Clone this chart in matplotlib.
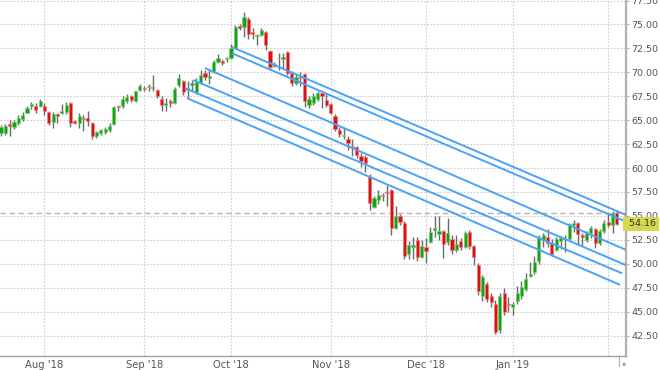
import matplotlib
matplotlib.use('Agg')
import matplotlib.pyplot as plt
from matplotlib.patches import Rectangle
import matplotlib.transforms as mtrans

# ---------------- data ----------------
opens = [63.7, 63.7, 64.6, 64.3, 64.7, 65.1, 65.8, 66.5, 66.5, 66.5,
         66.5, 65.9, 64.8, 65.6, 65.8, 65.9, 66.8, 64.9, 64.7, 65.2,
         65.2, 64.7, 63.3, 63.7, 63.8, 64.0, 64.6, 66.5, 66.5, 67.0,
         67.5, 67.0, 68.2, 68.4, 68.5, 68.5, 68.2, 67.2, 66.6, 67.0,
         66.8, 68.7, 69.1, 68.2, 68.7, 67.9, 69.0, 69.9, 69.4, 70.0,
         71.1, 71.2, 71.4, 71.5, 72.5, 74.85, 74.7, 75.6, 74.2, 73.8,
         73.9, 74.2, 72.2, 70.8, 71.5, 71.4, 72.1, 69.9, 68.9, 69.5,
         69.8, 66.6, 66.8, 67.2, 67.8, 67.1, 66.7, 65.4, 64.0, 63.4,
         63.0, 62.3, 62.2, 61.3, 61.2, 59.1, 55.9, 56.7, 57.2, 57.45,
         57.7, 53.7, 55.0, 54.3, 51.0, 51.8, 52.5, 50.7, 51.7, 52.3,
         53.5, 53.1, 53.4, 52.3, 52.6, 51.4, 52.4, 51.8, 53.3, 51.9,
         49.9, 46.6, 47.9, 46.6, 45.8, 43.1, 46.9, 45.8, 45.5, 46.1,
         46.6, 47.4, 48.7, 49.1, 50.3, 52.5, 52.8, 52.2, 51.4, 52.4,
         52.7, 52.6, 54.0, 54.3, 53.0, 52.5, 53.2, 53.6, 52.2, 53.4,
         54.4, 54.1, 55.3]
closes = [64.3, 64.4, 64.4, 64.8, 65.2, 65.5, 66.3, 66.7, 66.1, 67.0,
          66.0, 64.7, 65.6, 65.4, 66.0, 66.6, 64.7, 64.7, 65.4, 65.1,
          64.9, 63.4, 63.8, 64.0, 64.1, 64.4, 66.4, 66.4, 67.2, 67.4,
          67.1, 68.0, 68.6, 68.3, 68.6, 68.4, 67.5, 66.6, 66.8, 66.8,
          68.3, 69.4, 67.9, 68.4, 68.9, 69.0, 69.7, 69.5, 69.6, 71.1,
          71.5, 71.0, 71.45, 72.5, 74.7, 74.6, 75.8, 74.0, 74.0, 73.9,
          74.4, 72.9, 70.6, 70.9, 71.45, 71.6, 69.9, 68.9, 69.5, 69.45,
          67.0, 67.2, 67.5, 67.8, 67.5, 66.6, 65.8, 64.1, 63.6, 63.5,
          62.6, 62.2, 61.4, 60.7, 60.5, 56.3, 56.9, 57.2, 57.1, 57.4,
          53.7, 55.0, 54.4, 50.8, 52.0, 52.0, 50.7, 51.9, 51.3, 53.3,
          53.7, 53.4, 52.1, 53.2, 51.4, 52.1, 51.7, 53.2, 51.9, 50.7,
          47.1, 48.6, 46.3, 46.0, 42.9, 46.6, 45.0, 45.7, 45.8, 46.9,
          47.6, 48.4, 48.9, 50.2, 52.8, 53.0, 52.2, 51.0, 52.6, 52.7,
          52.6, 54.2, 54.3, 53.1, 52.8, 53.2, 53.7, 52.2, 53.4, 54.3,
          54.0, 55.3, 54.16]
highs = [64.5, 64.6, 65.0, 65.0, 65.5, 65.9, 66.5, 66.9, 66.8, 67.2,
         66.8, 66.0, 65.9, 65.8, 66.7, 66.9, 66.9, 65.0, 65.7, 65.5,
         66.0, 64.8, 63.9, 64.1, 64.3, 64.7, 66.5, 66.6, 67.5, 67.7,
         67.6, 68.1, 68.8, 68.6, 68.8, 69.7, 68.3, 67.5, 67.3, 67.2,
         68.5, 69.8, 69.2, 69.1, 69.2, 69.4, 70.2, 70.2, 70.4, 71.3,
         71.9, 71.4, 71.6, 73.0, 74.9, 75.0, 76.3, 75.8, 74.6, 74.0,
         74.6, 74.3, 72.3, 71.1, 72.0, 72.0, 72.2, 70.1, 69.9, 70.0,
         69.9, 67.5, 67.8, 68.0, 68.1, 67.8, 66.8, 65.6, 64.3, 64.2,
         63.3, 63.0, 62.3, 61.6, 61.4, 59.4, 57.1, 57.7, 57.4, 58.2,
         57.8, 56.0, 55.2, 54.5, 52.4, 52.8, 52.8, 52.5, 52.7, 53.8,
         55.0, 55.0, 53.5, 54.8, 53.0, 53.0, 52.7, 53.4, 53.5, 52.0,
         50.1, 48.8, 48.1, 46.9, 46.2, 46.9, 47.5, 46.5, 46.0, 47.7,
         48.2, 49.0, 50.2, 50.8, 53.0, 53.2, 53.6, 52.6, 52.8, 52.9,
         53.0, 54.3, 54.6, 54.4, 53.2, 53.4, 53.9, 53.7, 53.6, 54.6,
         55.3, 55.5, 55.6]
lows = [63.3, 63.5, 63.4, 64.1, 64.5, 64.9, 65.7, 66.2, 65.8, 66.4,
        65.5, 64.5, 64.2, 64.7, 65.6, 65.6, 64.3, 64.6, 64.2, 63.9,
        64.4, 63.0, 63.1, 63.5, 63.6, 63.8, 64.5, 66.0, 66.3, 66.8,
        66.9, 66.9, 68.0, 68.0, 68.1, 68.1, 67.3, 66.0, 66.0, 66.4,
        66.7, 68.5, 67.6, 67.3, 68.0, 67.7, 68.8, 69.2, 68.8, 69.9,
        71.0, 70.8, 71.1, 71.4, 72.4, 74.4, 73.7, 73.5, 73.5, 72.9,
        73.8, 72.3, 70.4, 70.6, 70.2, 70.4, 69.7, 68.6, 68.7, 68.6,
        66.4, 66.3, 66.6, 67.0, 66.3, 66.4, 65.6, 63.9, 63.2, 63.0,
        61.9, 61.3, 61.0, 60.1, 59.6, 55.6, 55.8, 56.2, 56.6, 56.0,
        53.0, 53.6, 54.1, 50.5, 50.5, 50.5, 50.3, 50.6, 50.1, 52.2,
        52.8, 52.5, 50.6, 52.0, 51.0, 51.2, 51.4, 51.6, 51.5, 49.9,
        46.7, 46.1, 46.0, 45.5, 42.7, 42.8, 44.6, 45.0, 44.6, 45.8,
        46.3, 47.2, 48.6, 48.9, 50.0, 51.8, 51.8, 50.8, 51.3, 51.5,
        51.2, 52.5, 53.3, 52.0, 51.9, 52.3, 52.7, 51.6, 52.0, 53.2,
        53.8, 53.2, 54.0]

month_labels = ["Aug '18", "Sep '18", "Oct '18", "Nov '18", "Dec '18", "Jan '19", ""]
month_start_idx = [10, 33, 53, 76, 98, 118, 140]

# parallel trend channel lines: start/end (bar index, price)
chan_x0 = [53.2, 53.2, 47.0, 44.3, 42.4, 42.9]
chan_y0 = [72.65, 72.0, 70.45, 69.2, 68.35, 67.3]
chan_x1 = [144.1, 144.1, 144.1, 144.1, 143.2, 142.7]
chan_y1 = [55.1, 54.4, 51.45, 49.85, 49.0, 47.8]

last_price = 54.16
ref_level = 55.3
y_ticks = [42.5, 45.0, 47.5, 50.0, 52.5, 55.0, 57.5, 60.0, 62.5, 65.0, 67.5, 70.0, 72.5, 75.0, 77.5]

# ---------------- figure ----------------
W, H = 660, 370
fig = plt.figure(figsize=(W / 100, H / 100), dpi=100)
fig.patch.set_facecolor('white')
ax = fig.add_axes([0, 14 / H, 626 / W, 356 / H])
ax.set_xlim(-0.25, 144.1)
ax.set_ylim(40.36, 77.56)

# grid
for yv in y_ticks:
    ax.axhline(yv, color='#cccccc', lw=0.8, ls=(0, (1.5, 1.5)), zorder=0)
for xv in month_start_idx:
    ax.axvline(xv, color='#cccccc', lw=0.8, ls=(0, (1.5, 1.5)), zorder=0)

# reference dashed level
ax.axhline(ref_level, color='#b4b4b4', lw=1.0, ls=(0, (4, 2.5)), zorder=1)

# candles
green, green_e = '#13a313', '#7ccf7c'
red, red_e = '#d81313', '#ee8080'
bw = 0.74
for i, (o, h, l, c) in enumerate(zip(opens, highs, lows, closes)):
    up = c >= o
    ax.plot([i, i], [l, h], color='#6a6a6a', lw=1.0, zorder=2, solid_capstyle='butt')
    bot = min(o, c)
    ht = max(abs(c - o), 0.06)
    ax.add_patch(Rectangle((i - bw / 2, bot), bw, ht,
                           facecolor=green if up else red,
                           edgecolor=green_e if up else red_e,
                           lw=0.5, zorder=3))

# channel lines
for x0, y0, x1, y1 in zip(chan_x0, chan_y0, chan_x1, chan_y1):
    ax.plot([x0, x1], [y0, y1], color='#4aa3f5', lw=1.4, zorder=4,
            solid_capstyle='butt')

# axes styling
for s in ['top', 'left']:
    ax.spines[s].set_visible(False)
ax.spines['right'].set_color('#b0b0b0')
ax.spines['right'].set_linewidth(1.6)
ax.spines['bottom'].set_color('#a0a0a0')
ax.spines['bottom'].set_linewidth(1.0)

ax.yaxis.tick_right()
ax.set_yticks(y_ticks)
ax.set_yticklabels([f'{v:.2f}' for v in y_ticks])
ax.tick_params(axis='y', length=2.5, width=0.8, color='#b0b0b0', labelsize=6.8,
               labelcolor='#555555', pad=1.5)
ax.set_xticks(month_start_idx)
ax.set_xticklabels(month_labels)
ax.tick_params(axis='x', length=0, labelsize=7.2, labelcolor='#555555', pad=3)

# last price label box
trans = mtrans.blended_transform_factory(ax.transAxes, ax.transData)
ax.text(1.0, last_price, f' {last_price:.2f}', transform=trans, ha='left', va='center',
        fontsize=6.8, color='#333333', zorder=6, clip_on=False,
        bbox=dict(boxstyle='square,pad=0.3', facecolor='#d6d84c', edgecolor='none'))

# small end marker on x axis
ax.plot([142.5, 142.5], [40.36, 39.3], color='#b0b0b0', lw=0.8, clip_on=False)
fig.text(624 / W, 1 - 365 / H, '◆', fontsize=4, color='#a8a8a8', ha='center', va='center')

fig.savefig('out.png', dpi=100)
